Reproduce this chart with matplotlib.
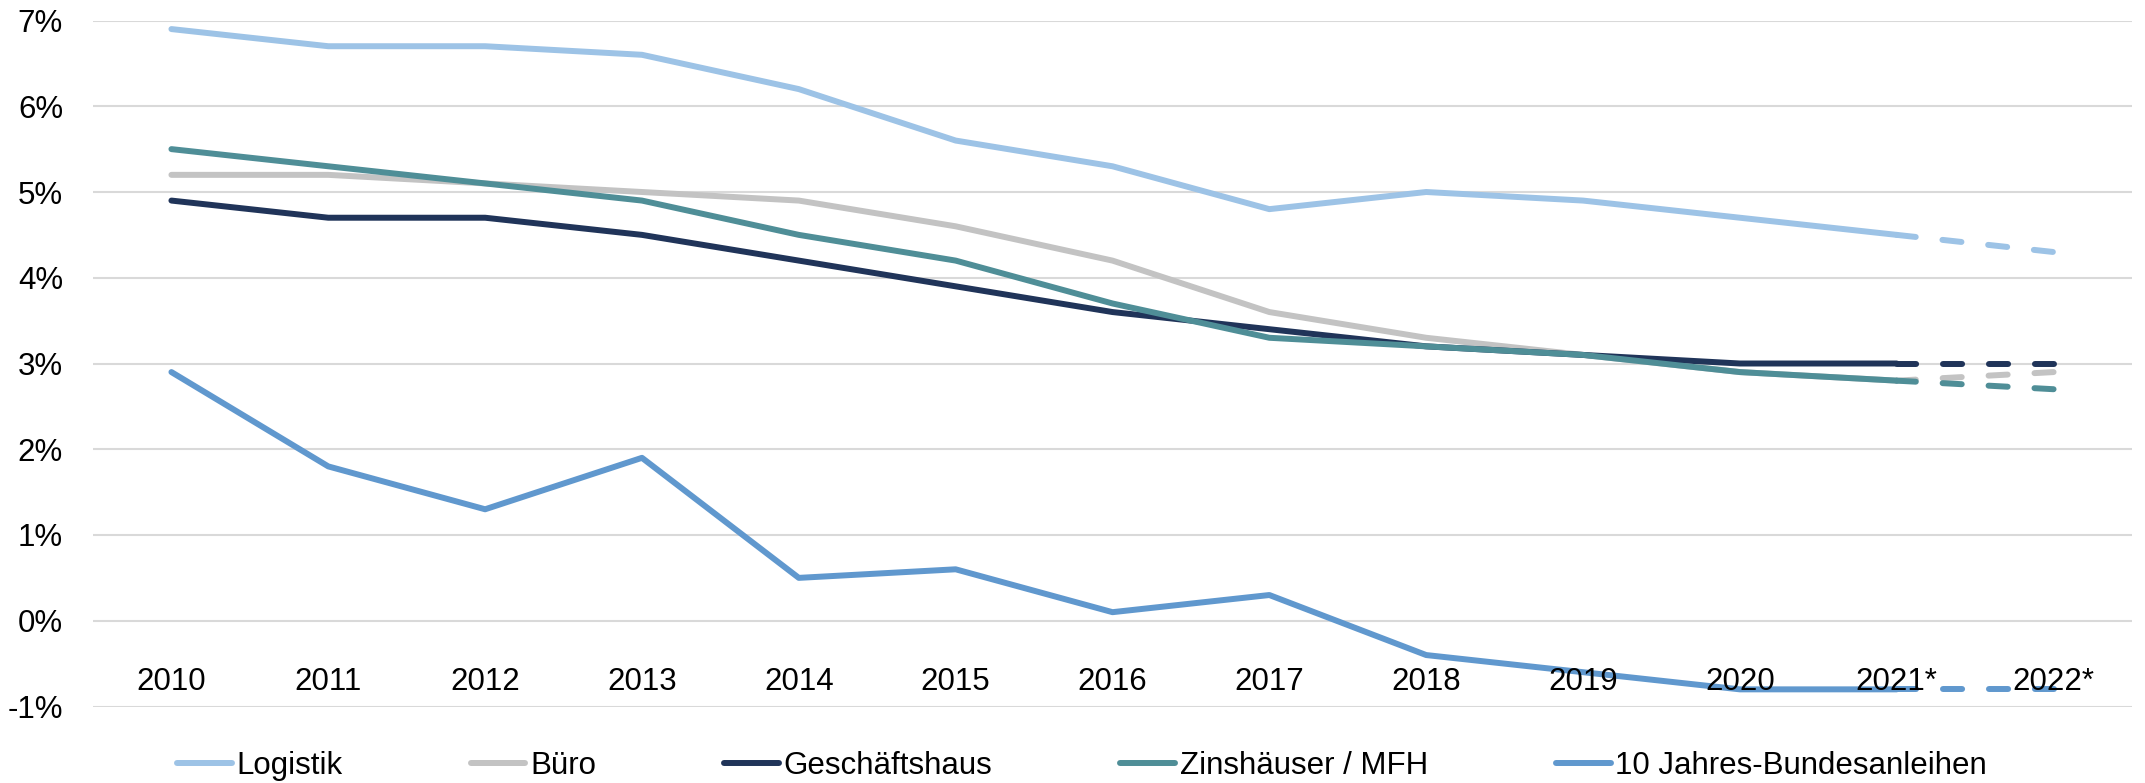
import matplotlib
matplotlib.use("Agg")
import matplotlib.pyplot as plt
from matplotlib.lines import Line2D

plt.rcParams['font.family'] = ['Liberation Sans', 'DejaVu Sans']
plt.rcParams['axes.unicode_minus'] = False

years = ["2010", "2011", "2012", "2013", "2014", "2015", "2016", "2017",
         "2018", "2019", "2020", "2021*", "2022*"]
logistik = [6.9, 6.7, 6.7, 6.6, 6.2, 5.6, 5.3, 4.8, 5.0, 4.9, 4.7, 4.5, 4.3]
buero = [5.2, 5.2, 5.1, 5.0, 4.9, 4.6, 4.2, 3.6, 3.3, 3.1, 2.9, 2.8, 2.9]
geschaeftshaus = [4.9, 4.7, 4.7, 4.5, 4.2, 3.9, 3.6, 3.4, 3.2, 3.1, 3.0, 3.0, 3.0]
zinshaeuser = [5.5, 5.3, 5.1, 4.9, 4.5, 4.2, 3.7, 3.3, 3.2, 3.1, 2.9, 2.8, 2.7]
bundesanleihen = [2.9, 1.8, 1.3, 1.9, 0.5, 0.6, 0.1, 0.3, -0.4, -0.6, -0.8, -0.8, -0.8]
series_names = ["Logistik", "Büro", "Geschäftshaus", "Zinshäuser / MFH",
                "10 Jahres-Bundesanleihen"]
y_ticks = [-1, 0, 1, 2, 3, 4, 5, 6, 7]
y_tick_labels = ["-1%", "0%", "1%", "2%", "3%", "4%", "5%", "6%", "7%"]

colors = ["#9DC3E6", "#C3C3C3", "#203459", "#4F8E97", "#6098CE"]
series = [logistik, buero, geschaeftshaus, zinshaeuser, bundesanleihen]

W, H = 2145, 783
fig = plt.figure(figsize=(W / 100, H / 100), dpi=100)
left, right = 93 / W, 2132 / W
bottom, top = 1 - 706.5 / H, 1 - 20.5 / H
ax = fig.add_axes([left, bottom, right - left, top - bottom])

x = list(range(len(years)))
lw = 4.3
n_solid = len(years) - 1  # last segment (2021 -> 2022) is a forecast, dashed
for vals, c in zip(series, colors):
    ax.plot(x[:n_solid], vals[:n_solid], color=c, lw=lw,
            solid_capstyle='round', solid_joinstyle='round', zorder=3)
    ax.plot(x[n_solid - 1:], vals[n_solid - 1:], color=c, lw=lw,
            linestyle=(0, (3.2, 4.5)), dash_capstyle='round', zorder=3)

ax.set_xlim(-0.5, len(years) - 0.5)
ax.set_ylim(-1, 7)
ax.set_yticks(y_ticks)
ax.set_yticklabels(y_tick_labels)
ax.tick_params(axis='y', length=0, pad=21.6, labelsize=22.5, labelcolor='black')
ax.set_xticks([])
ax.grid(axis='y', color='#D9D9D9', lw=1.5, zorder=0)
for s in ax.spines.values():
    s.set_visible(False)

for xi, lab in zip(x, years):
    ax.text(xi, -0.808, lab, ha='center', va='baseline', fontsize=22.5,
            color='black', zorder=5)

handles = [Line2D([0], [0], color=c, lw=lw, solid_capstyle='round')
           for c in colors]
fig.legend(handles, series_names, loc='center', ncol=5,
           bbox_to_anchor=(1082 / W, 1 - 766 / H), frameon=False,
           fontsize=22.5, handlelength=1.75, handletextpad=0.15,
           columnspacing=4.1, borderaxespad=0, borderpad=0)

fig.savefig("out.png", dpi=100)
